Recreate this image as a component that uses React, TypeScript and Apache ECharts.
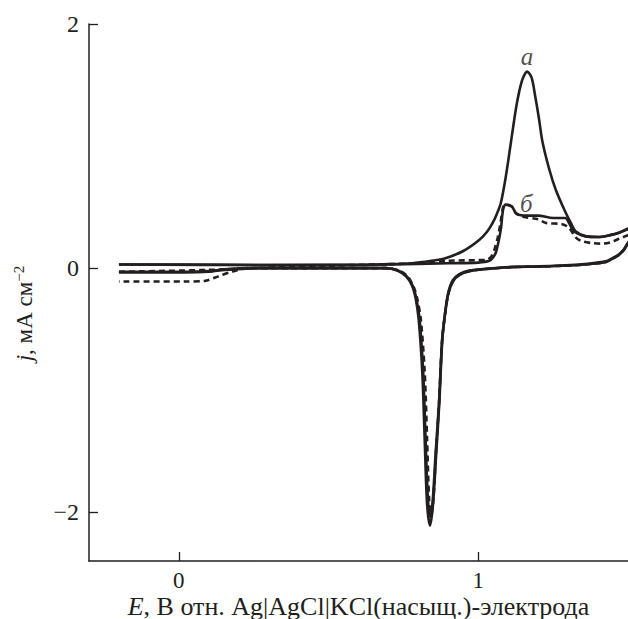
import React, { useEffect, useRef } from "react";
import * as echarts from "echarts";

const xTicks = [0, 1];
const yTicks = [-2, 0, 2];

// Curve "а" (solid): forward scan then reverse scan
const curveA: number[][] = [
  [-0.2, 0.03], [0.0, 0.03], [0.3, 0.025], [0.6, 0.025], [0.67, 0.03], [0.78, 0.04],
  [0.85, 0.062], [0.89, 0.08], [0.95, 0.14], [1.003, 0.23], [1.03, 0.3], [1.048, 0.37],
  [1.063, 0.45], [1.076, 0.54], [1.092, 0.75], [1.109, 1.03], [1.126, 1.31], [1.137, 1.45],
  [1.148, 1.55], [1.163, 1.61], [1.178, 1.56], [1.19, 1.41], [1.203, 1.22], [1.214, 1.04],
  [1.237, 0.81], [1.259, 0.64], [1.287, 0.48], [1.309, 0.37], [1.326, 0.3], [1.36, 0.26],
  [1.4, 0.255], [1.44, 0.27], [1.47, 0.29], [1.52, 0.35],
  [1.52, 0.27], [1.5, 0.21], [1.485, 0.15], [1.468, 0.11], [1.447, 0.08], [1.426, 0.055],
  [1.38, 0.04], [1.337, 0.03], [1.2, 0.015], [1.114, 0.01], [1.026, -0.005], [0.97, -0.02],
  [0.937, -0.05], [0.915, -0.1], [0.9, -0.2], [0.89, -0.35], [0.88, -0.58], [0.87, -1.1],
  [0.86, -1.5], [0.849, -1.93], [0.839, -2.11], [0.829, -1.93], [0.821, -1.4], [0.813, -0.85],
  [0.801, -0.42], [0.791, -0.25], [0.78, -0.15], [0.76, -0.07], [0.73, -0.02], [0.69, 0.0],
  [0.5, 0.0], [0.3, 0.0], [0.24, 0.0], [0.153, -0.01], [0.1, -0.025], [0.02, -0.03], [-0.2, -0.03],
];

// Curve "б" (solid)
const curveB: number[][] = [
  [-0.2, 0.03], [0.3, 0.025], [0.7, 0.03], [0.9, 0.04], [1.0, 0.045], [1.037, 0.06],
  [1.05, 0.09], [1.059, 0.13], [1.068, 0.22], [1.076, 0.33], [1.083, 0.48], [1.092, 0.52],
  [1.103, 0.515], [1.114, 0.5], [1.126, 0.45], [1.15, 0.43], [1.17, 0.43], [1.2, 0.43],
  [1.25, 0.41], [1.29, 0.41], [1.305, 0.36], [1.316, 0.31], [1.33, 0.285], [1.36, 0.26],
  [1.4, 0.255], [1.44, 0.27], [1.47, 0.29], [1.52, 0.34],
  [1.52, 0.26], [1.5, 0.2], [1.485, 0.145], [1.468, 0.105], [1.447, 0.075], [1.426, 0.05],
  [1.38, 0.035], [1.337, 0.025], [1.2, 0.012], [1.114, 0.008], [1.026, -0.008], [0.97, -0.025],
  [0.937, -0.055], [0.915, -0.11], [0.9, -0.21], [0.89, -0.36], [0.879, -0.6], [0.869, -1.1],
  [0.858, -1.5], [0.848, -1.9], [0.84, -2.04], [0.832, -1.9], [0.824, -1.4], [0.816, -0.85],
  [0.804, -0.42], [0.793, -0.25], [0.782, -0.15], [0.762, -0.07], [0.732, -0.02], [0.69, 0.0],
  [0.5, 0.0], [0.3, 0.0], [0.24, -0.002], [0.153, -0.015], [0.1, -0.03], [0.02, -0.035], [-0.2, -0.035],
];

// Dashed curve
const curveC: number[][] = [
  [-0.2, -0.03], [0.1, -0.015], [0.25, 0.0], [0.5, 0.02], [0.8, 0.04], [0.9, 0.06],
  [1.0, 0.065], [1.03, 0.07], [1.045, 0.1], [1.055, 0.16], [1.065, 0.25], [1.075, 0.38],
  [1.083, 0.5], [1.092, 0.52], [1.103, 0.515], [1.114, 0.5], [1.126, 0.45], [1.15, 0.42],
  [1.2, 0.4], [1.226, 0.37], [1.28, 0.36], [1.303, 0.33], [1.326, 0.25], [1.347, 0.22],
  [1.38, 0.205], [1.413, 0.2], [1.44, 0.21], [1.47, 0.24], [1.52, 0.29],
  [1.52, 0.25], [1.5, 0.2], [1.485, 0.145], [1.468, 0.105], [1.447, 0.075], [1.426, 0.05],
  [1.38, 0.035], [1.337, 0.025], [1.2, 0.012], [1.114, 0.008], [1.026, -0.008], [0.97, -0.025],
  [0.937, -0.055], [0.915, -0.11], [0.9, -0.21], [0.89, -0.36], [0.879, -0.6], [0.869, -1.1],
  [0.859, -1.5], [0.85, -1.9], [0.843, -2.02], [0.836, -1.9], [0.829, -1.4], [0.821, -0.85],
  [0.808, -0.42], [0.796, -0.25], [0.785, -0.16], [0.765, -0.07], [0.735, -0.02], [0.695, 0.0],
  [0.5, 0.0], [0.3, 0.0], [0.23, 0.0], [0.176, -0.03], [0.13, -0.07], [0.087, -0.105],
  [0.02, -0.11], [-0.2, -0.11],
];

const curveLabels = ["а", "б"];
const curveLabelPos: number[][] = [[1.163, 1.73], [1.16, 0.53]];

const INK = "#231f20";
const FONT = "'Liberation Serif', 'Times New Roman', serif";

export default function App() {
  const ref = useRef<HTMLDivElement>(null);
  useEffect(() => {
    if (!ref.current) return;
    const chart = echarts.init(ref.current, undefined, { renderer: "svg" });
    const lineSeries = (data: number[][], dashed: boolean) => ({
      type: "line",
      data,
      showSymbol: false,
      smooth: 0.3,
      clip: true,
      lineStyle: { color: INK, width: 2.6, type: dashed ? [6, 4] : "solid" },
      z: dashed ? 3 : 2,
    });
    chart.setOption({
      animation: false,
      backgroundColor: "#ffffff",
      textStyle: { fontFamily: FONT },
      grid: { left: 89, right: 0, top: 24, bottom: 58, containLabel: false, outerBoundsMode: "none" },
      xAxis: {
        type: "value",
        min: -0.3,
        max: 1.5,
        splitLine: { show: false },
        axisLine: { show: true, onZero: false, lineStyle: { color: INK, width: 1.5 } },
        axisTick: { show: true, inside: true, length: 9, customValues: xTicks, lineStyle: { color: INK, width: 1.3 } },
        axisLabel: { customValues: xTicks, margin: 8, fontSize: 23, color: INK, fontFamily: FONT },
        name: "{i|E}, В отн. Ag|AgCl|KCl(насыщ.)-электрода",
        nameLocation: "middle",
        nameGap: 32,
        nameMoveOverlap: false,
        nameTextStyle: {
          fontSize: 26, color: INK, fontFamily: FONT,
          rich: { i: { fontStyle: "italic", fontSize: 26, color: INK, fontFamily: FONT } },
        },
      },
      yAxis: {
        type: "value",
        min: -2.4,
        max: 2,
        splitLine: { show: false },
        axisLine: { show: true, onZero: false, lineStyle: { color: INK, width: 1.5 } },
        axisTick: { show: true, inside: true, length: 9, customValues: yTicks, lineStyle: { color: INK, width: 1.3 } },
        axisLabel: {
          customValues: yTicks, margin: 10, fontSize: 24, color: INK, fontFamily: FONT,
          formatter: (v: number) => (v < 0 ? "\u2212" + Math.abs(v) : String(v)),
        },
        name: "{i|j}, мА см{sup|\u22122}",
        nameLocation: "middle",
        nameRotate: 90,
        nameGap: 52,
        nameMoveOverlap: false,
        nameTextStyle: {
          fontSize: 23, color: INK, fontFamily: FONT,
          padding: [0, 42, 0, 0],
          rich: {
            i: { fontStyle: "italic", fontSize: 23, color: INK, fontFamily: FONT },
            sup: { fontSize: 15, color: INK, fontFamily: FONT, padding: [0, 0, 11, 0] },
          },
        },
      },
      series: [
        lineSeries(curveA, false),
        lineSeries(curveB, false),
        lineSeries(curveC, true),
        {
          type: "scatter",
          data: curveLabelPos.map((p, i) => ({ value: p, name: curveLabels[i] })),
          symbolSize: 0,
          label: {
            show: true,
            position: "inside",
            formatter: (p: any) => p.name,
            fontSize: 25,
            fontStyle: "italic",
            fontFamily: FONT,
            color: INK,
          },
          z: 5,
        },
      ],
    });
    return () => chart.dispose();
  }, []);
  return (
    <div
      ref={ref}
      style={{ position: "fixed", left: 0, top: 0, width: 628, height: 619, background: "#fff" }}
    />
  );
}
